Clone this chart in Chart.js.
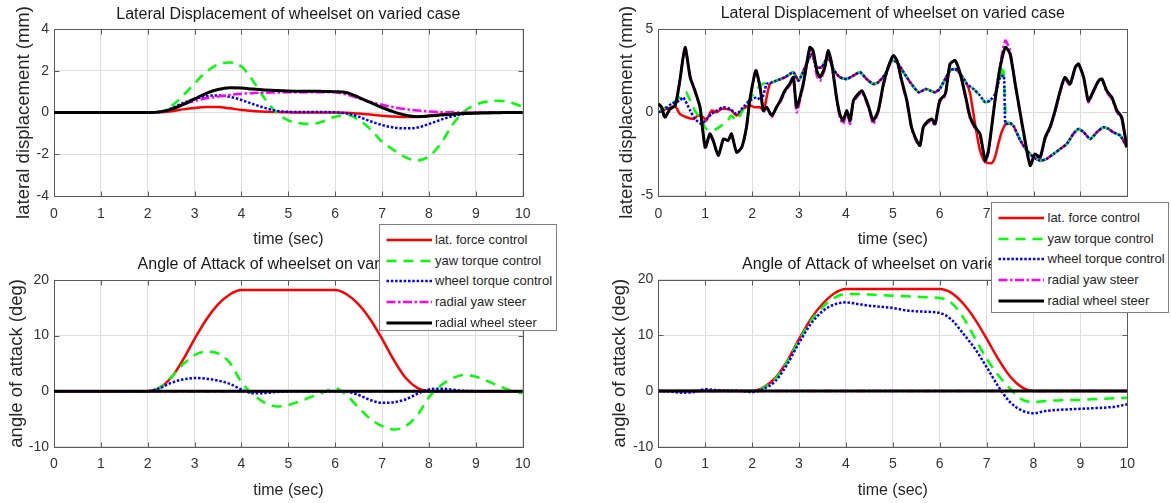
<!DOCTYPE html>
<html>
<head>
<meta charset="utf-8">
<script src="https://cdn.jsdelivr.net/npm/chart.js@4.4.1/dist/chart.umd.min.js"></script>
<style>
  html, body { margin: 0; padding: 0; background: #fff; }
  #figure { position: relative; width: 1171px; height: 503px; overflow: hidden; background: #fff; }
  #figure canvas { position: absolute; }
  .legend { position: absolute; background: #fff; border: 1px solid #808080; box-sizing: border-box;
            font-family: 'Liberation Sans', Arial, Helvetica, sans-serif; font-size: 13px; color: #262626; z-index: 5; }
  .legend .row { position: absolute; left: 0; right: 0; height: 20px; }
  .legend svg { position: absolute; top: 0; left: 0; overflow: visible; }
  .legend span { position: absolute; top: 0; line-height: 20px; white-space: nowrap; }
</style>
</head>
<body>
<div id="figure">
  <canvas id="cTL" width="585" height="250" style="left:0px;top:0px;width:585px;height:250px"></canvas>
  <canvas id="cTR" width="586" height="250" style="left:585px;top:0px;width:586px;height:250px"></canvas>
  <canvas id="cBL" width="585" height="253" style="left:0px;top:250px;width:585px;height:253px"></canvas>
  <canvas id="cBR" width="586" height="253" style="left:585px;top:250px;width:586px;height:253px"></canvas>
  <div id="legTL" class="legend" style="left:378.5px;top:224px;width:178.5px;height:107px"></div>
  <div id="legTR" class="legend" style="left:991px;top:202px;width:178px;height:111px"></div>
</div>
<script>
// ---- series names and shared time base -------------------------------------------
const seriesNames = ['lat. force control', 'yaw torque control', 'wheel torque control', 'radial yaw steer', 'radial wheel steer'];
const timeGrid = [0,0.25,0.5,0.75,1,1.25,1.5,1.75,2,2.25,2.5,2.75,3,3.25,3.5,3.75,4,4.25,4.5,4.75,5,5.25,5.5,5.75,6,6.25,6.5,6.75,7,7.25,7.5,7.75,8,8.25,8.5,8.75,9,9.25,9.5,9.75,10];

// ---- lateral displacement, smooth case (mm), sampled on timeGrid ----------------------
const latSmoothForce  = [0,0,0,0,0,0,0,0,0, 0.01,0.06,0.15,0.22,0.26,0.26,0.2,0.12,0.07,0.04,0.02,0.01, 0,0,0,0, -0.01,-0.05,-0.1,-0.15,-0.19,-0.21,-0.2,-0.15,-0.09,-0.04,-0.02,-0.01, 0,0,0,0];
const latSmoothYaw    = [0,0,0,0,0,0,0,0,0, 0.02,0.3,0.8,1.4,1.95,2.3,2.4,2.2,1.5,0.65, 0.0,-0.38,-0.52,-0.55,-0.42,-0.2,-0.12,-0.35,-0.8,-1.4, -1.8,-2.15,-2.3,-2.1,-1.5,-0.6,0.05,0.38,0.53,0.56, 0.47,0.28];
const latSmoothWheel  = [0,0,0,0,0,0,0,0,0, 0.02,0.2,0.45,0.65,0.78,0.82,0.75,0.6,0.4,0.22, 0.08,0.03,0.02,0.02,0.02,0.01,-0.05,-0.2,-0.42,-0.6, -0.72,-0.76,-0.72,-0.55,-0.35,-0.18,-0.07,-0.02,0,0, 0,0];
const latSmoothRYaw   = [0,0,0,0,0,0,0,0,0, 0.02,0.15,0.38,0.55,0.68,0.76,0.84,0.9,0.93,0.95, 0.96,0.97,0.97,0.97,0.97,0.96,0.85,0.68,0.5,0.37, 0.25,0.16,0.1,0.05,0.02,0.01,0,0,0,0, 0,0];
const latSmoothRWheel = [0,0,0,0,0,0,0,0,0, 0.03,0.15,0.38,0.65,0.92,1.1,1.18,1.17,1.12,1.08, 1.05,1.03,1.02,1.02,1.01,1.0,0.95,0.73,0.48,0.24, 0.03,-0.13,-0.2,-0.17,-0.12,-0.08,-0.05,-0.03,-0.02,-0.01, 0,0];

// ---- lateral displacement, irregular track case (mm): [time, value] ------------------
const latTrackForce = [[0,0],[0.18,0.2],[0.36,0.35],[0.46,-0.1],[0.6,-0.3],[0.75,-0.4],[0.85,-0.2],[0.96,-0.3],[1.02,-0.5],[1.14,0.1],[1.24,0.0],[1.35,0.2],[1.46,0.2],[1.56,0.1],[1.67,-0.2],[1.81,0.2],[1.95,0.4],[2.06,0.3],[2.17,0.3],[2.25,0.1],[2.31,0.9],[2.38,1.7],[2.52,1.9],[2.7,2.1],[2.88,2.4],[2.99,1.9],[3.16,2.9],[3.27,3.5],[3.38,2.7],[3.48,2.7],[3.62,3.3],[3.73,2.6],[3.87,2.1],[4.02,2.0],[4.16,2.2],[4.3,2.4],[4.44,2.0],[4.58,1.7],[4.69,1.8],[4.84,2.3],[4.98,3.1],[5.09,3.0],[5.23,2.4],[5.37,1.8],[5.55,1.2],[5.7,1.4],[5.8,1.3],[5.9,1.2],[6.0,1.4],[6.22,2.5],[6.33,2.6],[6.44,2.3],[6.58,1.7],[6.65,1.1],[6.72,-0.1],[6.79,-1.3],[6.86,-2.3],[6.97,-3.0],[7.11,-3.05],[7.18,-2.7],[7.25,-1.9],[7.32,-1.2],[7.42,-0.65],[7.5,-0.7],[7.57,-0.8],[7.72,-1.7],[7.86,-2.3],[8.0,-2.7],[8.14,-2.9],[8.28,-2.8],[8.43,-2.5],[8.57,-2.2],[8.71,-1.9],[8.85,-1.3],[8.96,-1.0],[9.07,-1.2],[9.21,-1.6],[9.35,-1.2],[9.49,-0.9],[9.6,-1.0],[9.7,-1.2],[9.85,-1.4],[9.99,-2.1]];
const latTrackYaw = [[0,0],[0.1,0.2],[0.28,0.5],[0.46,0.9],[0.59,1.2],[0.68,0.7],[0.78,0.1],[0.92,-0.5],[1.02,-1.0],[1.14,-1.1],[1.24,-1.0],[1.35,-0.8],[1.46,-0.6],[1.56,-0.2],[1.66,-0.5],[1.74,-0.2],[1.88,0.5],[2.03,1.1],[2.17,1.6],[2.31,1.8],[2.38,1.75],[2.52,1.9],[2.7,2.1],[2.88,2.4],[2.99,1.9],[3.16,2.9],[3.27,3.5],[3.38,2.7],[3.48,2.7],[3.62,3.3],[3.73,2.6],[3.87,2.1],[4.02,2.0],[4.16,2.2],[4.3,2.4],[4.44,2.0],[4.58,1.7],[4.69,1.8],[4.84,2.3],[4.98,3.1],[5.09,3.0],[5.23,2.4],[5.37,1.8],[5.55,1.2],[5.7,1.4],[5.8,1.3],[5.9,1.2],[6.0,1.4],[6.22,2.5],[6.33,2.6],[6.44,2.3],[6.58,1.7],[6.72,1.4],[6.86,1.0],[6.97,0.6],[7.07,0.7],[7.18,1.1],[7.29,2.1],[7.35,2.8],[7.42,-0.6],[7.5,-0.65],[7.57,-0.8],[7.72,-1.7],[7.86,-2.3],[8.0,-2.7],[8.14,-2.9],[8.28,-2.8],[8.43,-2.5],[8.57,-2.2],[8.71,-1.9],[8.85,-1.3],[8.96,-1.0],[9.07,-1.2],[9.21,-1.6],[9.35,-1.2],[9.49,-0.9],[9.6,-1.0],[9.7,-1.2],[9.85,-1.4],[9.99,-2.1]];
const latTrackWheel = [[0,0],[0.1,0.1],[0.28,0.5],[0.46,0.7],[0.53,0.9],[0.68,0.1],[0.78,-0.4],[0.92,-0.7],[1.03,-0.4],[1.14,-0.1],[1.24,0.1],[1.39,0.3],[1.53,0.2],[1.67,-0.1],[1.81,0.3],[1.95,0.7],[2.1,0.9],[2.2,0.7],[2.31,1.7],[2.38,1.75],[2.52,1.9],[2.7,2.1],[2.88,2.4],[2.99,1.9],[3.16,2.9],[3.27,3.5],[3.38,2.7],[3.48,2.7],[3.62,3.3],[3.73,2.6],[3.87,2.1],[4.02,2.0],[4.16,2.2],[4.3,2.4],[4.44,2.0],[4.58,1.7],[4.69,1.8],[4.84,2.3],[4.98,3.1],[5.09,3.0],[5.23,2.4],[5.37,1.8],[5.55,1.2],[5.7,1.4],[5.8,1.3],[5.9,1.2],[6.0,1.4],[6.22,2.5],[6.33,2.6],[6.44,2.3],[6.58,1.7],[6.72,1.4],[6.86,1.0],[6.97,0.6],[7.07,0.7],[7.18,1.1],[7.29,2.1],[7.37,2.2],[7.4,-0.7],[7.5,-0.65],[7.57,-0.8],[7.72,-1.7],[7.86,-2.3],[8.0,-2.7],[8.14,-2.9],[8.28,-2.8],[8.43,-2.5],[8.57,-2.2],[8.71,-1.9],[8.85,-1.3],[8.96,-1.0],[9.07,-1.2],[9.21,-1.6],[9.35,-1.2],[9.49,-0.9],[9.6,-1.0],[9.7,-1.2],[9.85,-1.4],[9.99,-2.1]];
const latTrackRYaw = [[0,0.5],[0.07,0.3],[0.14,-0.35],[0.25,0.2],[0.36,0.4],[0.46,1.9],[0.57,3.9],[0.68,2.1],[0.78,1.3],[0.89,0.3],[1.0,-2.2],[1.1,-1.3],[1.17,-1.7],[1.28,-2.6],[1.39,-1.6],[1.49,-1.7],[1.56,-1.3],[1.67,-2.4],[1.78,-2.1],[1.88,-0.9],[1.95,0.7],[2.08,2.5],[2.17,1.5],[2.24,0.0],[2.31,0.3],[2.42,-0.3],[2.52,0.3],[2.6,0.6],[2.7,1.2],[2.8,1.6],[2.88,2.0],[2.95,0.0],[3.09,1.6],[3.23,3.8],[3.3,3.5],[3.38,2.2],[3.45,1.9],[3.55,2.6],[3.62,3.6],[3.7,2.8],[3.8,0.8],[3.87,-0.3],[3.94,-0.7],[4.02,0.0],[4.09,-0.7],[4.16,0.6],[4.26,1.0],[4.34,1.2],[4.44,0.6],[4.51,0.0],[4.58,-0.7],[4.69,0.0],[4.8,1.6],[4.9,2.6],[5.01,3.4],[5.09,3.1],[5.19,1.8],[5.3,0.6],[5.4,-1.0],[5.51,-1.8],[5.58,-2.0],[5.65,-0.9],[5.76,-0.6],[5.83,-0.5],[5.9,-0.8],[6.0,0.6],[6.12,1.0],[6.22,2.9],[6.33,3.1],[6.44,2.3],[6.54,1.0],[6.65,-0.4],[6.76,-1.0],[6.86,-1.4],[6.97,-3.0],[7.04,-2.4],[7.18,0.8],[7.29,2.9],[7.4,4.3],[7.5,3.7],[7.61,1.7],[7.72,-0.2],[7.82,-1.8],[7.93,-3.2],[8.03,-2.6],[8.14,-2.8],[8.25,-1.6],[8.35,-1.0],[8.46,0.0],[8.57,1.2],[8.67,2.0],[8.78,1.6],[8.89,2.7],[8.96,2.9],[9.07,2.0],[9.17,0.6],[9.28,1.2],[9.39,1.9],[9.46,2.0],[9.56,1.2],[9.67,0.8],[9.78,0.0],[9.88,-0.4],[9.99,-2.2]];
const latTrackRWheel = [[0,0.5],[0.07,0.3],[0.14,-0.3],[0.25,0.2],[0.36,0.4],[0.46,1.9],[0.57,3.9],[0.68,2.1],[0.78,1.3],[0.89,0.3],[1.0,-2.1],[1.1,-1.3],[1.17,-1.7],[1.28,-2.6],[1.39,-1.6],[1.49,-1.7],[1.56,-1.3],[1.67,-2.4],[1.78,-2.1],[1.88,-0.9],[1.95,0.7],[2.08,2.5],[2.17,1.5],[2.24,0.1],[2.31,0.3],[2.42,-0.2],[2.52,0.3],[2.6,0.7],[2.7,1.3],[2.8,1.7],[2.88,2.1],[2.95,0.3],[3.09,1.7],[3.23,3.9],[3.3,3.7],[3.38,2.5],[3.45,2.1],[3.55,2.7],[3.62,3.7],[3.7,2.9],[3.8,0.9],[3.87,-0.1],[3.94,-0.5],[4.02,0.1],[4.09,-0.5],[4.16,0.7],[4.26,1.1],[4.34,1.3],[4.44,0.7],[4.51,0.1],[4.58,-0.5],[4.69,0.1],[4.8,1.7],[4.9,2.7],[5.01,3.4],[5.09,3.1],[5.19,1.9],[5.3,0.7],[5.4,-0.9],[5.51,-1.7],[5.58,-2.0],[5.65,-0.9],[5.76,-0.5],[5.83,-0.4],[5.9,-0.7],[6.0,0.7],[6.12,1.1],[6.22,2.9],[6.33,3.1],[6.44,2.3],[6.54,1.1],[6.65,-0.3],[6.76,-0.9],[6.86,-1.3],[6.97,-2.9],[7.04,-2.3],[7.18,0.7],[7.29,2.7],[7.4,3.9],[7.5,3.5],[7.61,1.7],[7.72,-0.1],[7.82,-1.7],[7.93,-3.2],[8.03,-2.5],[8.14,-2.7],[8.25,-1.5],[8.35,-0.9],[8.46,0.1],[8.57,1.3],[8.67,2.1],[8.78,1.7],[8.89,2.7],[8.96,2.9],[9.07,2.1],[9.17,0.7],[9.28,1.3],[9.39,1.9],[9.46,2.0],[9.56,1.3],[9.67,0.9],[9.78,0.1],[9.88,-0.3],[9.99,-2.1]];

// ---- angle of attack, smooth case (deg), sampled on timeGrid -------------------------
const aoaSmoothForce  = [0,0,0,0,0,0,0,0,0, 0.6,2.4,5.6,9.4,12.9,15.6,17.4,18.2,18.2,18.2, 18.2,18.2,18.2,18.2,18.2,18.2,17.4,15.6,12.9,9.4, 5.6,2.4,0.6,0,0,0,0,0,0,0, 0,0];
const aoaSmoothYaw    = [0,0,0,0,0,0,0,0,0, 0.6,2.5,4.8,6.5,7.1,6.8,5.1,1.6,-0.6,-2.1, -2.75,-2.5,-1.8,-1.0,-0.2,0.5,-0.8,-3.0,-5.0,-6.3, -6.9,-6.3,-4.4,-1.1,1.0,2.3,2.9,2.6,1.8,0.9, 0.1,-0.4];
const aoaSmoothWheel  = [0,0,0,0,0,0,0,0,0, 0.5,1.5,2.1,2.35,2.25,1.9,1.3,0.3,-0.4,-0.35, -0.15,-0.05,0,0,0,0,-0.1,-0.7,-1.6,-2.1, -2.0,-1.5,-0.5,0.3,0.45,0.25,0.05,0,0,0, 0,0];
const aoaSmoothRYaw   = [0,0,0,0,0,0,0,0,0, 0,0,0,0,0,0,0,0,0,0, 0,0,0,0,0,0,0,0,0,0, 0,0,0,0,0,0,0,0,0,0, 0,0];
const aoaSmoothRWheel = [0,0,0,0,0,0,0,0,0, 0,0,0,0,0,0,0,0,0,0, 0,0,0,0,0,0,0,0,0,0, 0,0,0,0,0,0,0,0,0,0, 0,0];

// ---- angle of attack, irregular track case (deg), sampled on timeGrid -----------------
const aoaTrackForce  = [0,0,0,0,0,0,0,0,0, 0.7,2.4,5.4,9.3,12.9,15.6,17.5,18.3,18.3,18.3, 18.3,18.3,18.3,18.3,18.3,18.3,17.6,15.7,12.9,9.4, 5.7,2.6,0.7,0,0,0,0,0,0,0, 0,0];
const aoaTrackYaw    = [0,0,0,0,0,0,0,0,0, 0.6,2.2,5.2,9.0,12.5,15.0,16.7,17.4,17.4,17.3, 17.2,17.1,17.0,16.9,16.8,16.7,15.8,13.2,9.5,5.8, 2.8,0.4,-1.5,-2.0,-1.8,-1.7,-1.6,-1.6,-1.5,-1.4, -1.3,-1.2];
const aoaTrackWheel  = [0,-0.1,-0.3,-0.2,0.3,0.15,0.05,0,-0.2, 0.4,1.8,4.8,8.6,12.0,14.3,15.5,15.9,15.6,15.3, 15.1,14.9,14.5,14.3,14.2,14.0,12.8,10.3,7.6,4.3, 0.8,-2.0,-3.5,-4.0,-3.6,-3.4,-3.3,-3.2,-3.1,-3.0, -2.8,-2.4];
const aoaTrackRYaw   = [0,0,0,0,0,0,0,0,0, 0,0,0,0,0,0,0,0,0,0, 0,0,0,0,0,0,0,0,0,0, 0,0,0,0,0,0,0,0,0,0, 0,0];
const aoaTrackRWheel = [0,0,0,0,0,0,0,0,0, 0,0,0,0,0,0,0,0,0,0, 0,0,0,0,0,0,0,0,0,0, 0,0,0,0,0,0,0,0,0,0, 0,0];

// ---- line styles, one per series ------------------------------------------------------
const seriesStyles = [
  { color: '#ff0000', dash: [],                 width: 2.5 },
  { color: '#00ff00', dash: [10, 7],            width: 2.5 },
  { color: '#0000ff', dash: [2.5, 1.8],         width: 2.5 },
  { color: '#ff00ff', dash: [9, 2.5, 2.5, 2.5], width: 2.5 },
  { color: '#000000', dash: [],                 width: 3 }
];

const FONT = "'Liberation Sans', Arial, Helvetica, sans-serif";
const onGrid = vals => vals.map((v, i) => ({ x: timeGrid[i], y: v }));
const fromPairs = pts => pts.map(([x, y]) => ({ x, y }));

function buildDatasets(seriesData, smooth) {
  return seriesData.map((pts, i) => ({
    label: seriesNames[i],
    data: pts,
    borderColor: seriesStyles[i].color,
    backgroundColor: seriesStyles[i].color,
    borderWidth: seriesStyles[i].width,
    borderDash: seriesStyles[i].dash,
    borderJoinStyle: 'round',
    pointRadius: 0,
    fill: false,
    tension: smooth ? 0 : 0.2,
    cubicInterpolationMode: smooth ? 'monotone' : 'default',
    order: seriesData.length - i
  }));
}

// axes box with inward tick marks on all four sides
const axesBox = {
  id: 'axesBox',
  beforeDatasetsDraw(chart) {
    const { ctx, chartArea: a, scales: { x, y } } = chart;
    const L = Math.round(a.left) + 0.5, R = Math.round(a.right) + 0.5;
    const T = Math.round(a.top) + 0.5, B = Math.round(a.bottom) + 0.5;
    const len = 5;
    ctx.save();
    ctx.strokeStyle = '#5a5a5a';
    ctx.lineWidth = 1;
    ctx.beginPath();
    x.ticks.forEach(t => {
      const px = Math.round(x.getPixelForValue(t.value)) + 0.5;
      if (px <= L + 1 || px >= R - 1) return;
      ctx.moveTo(px, B); ctx.lineTo(px, B - len);
      ctx.moveTo(px, T); ctx.lineTo(px, T + len);
    });
    y.ticks.forEach(t => {
      const py = Math.round(y.getPixelForValue(t.value)) + 0.5;
      if (py <= T + 1 || py >= B - 1) return;
      ctx.moveTo(L, py); ctx.lineTo(L + len, py);
      ctx.moveTo(R, py); ctx.lineTo(R - len, py);
    });
    ctx.stroke();
    ctx.strokeRect(L, T, R - L, B - T);
    ctx.restore();
  }
};

function makePanel(id, g, titleText, yTitle, yMin, yMax, yStep, datasets) {
  return new Chart(document.getElementById(id), {
    type: 'line',
    data: { datasets },
    options: {
      responsive: false,
      animation: false,
      devicePixelRatio: 1,
      events: [],
      layout: { padding: { left: 0, right: g.padRight, top: 0, bottom: 0 } },
      plugins: {
        legend: { display: false },
        tooltip: { enabled: false },
        title: {
          display: true, text: titleText, fullSize: false, align: 'center', color: '#1a1a1a',
          font: { family: FONT, size: 16, weight: 'normal', lineHeight: 1.2 },
          padding: { top: g.titleTop, bottom: g.titleBottom }
        }
      },
      scales: {
        x: {
          type: 'linear', min: 0, max: 10,
          ticks: { stepSize: 1, autoSkip: false, maxRotation: 0, color: '#333', padding: g.xTickPad,
                   font: { family: FONT, size: 14 } },
          grid: { color: '#dedede', lineWidth: 1, drawTicks: false },
          border: { display: false },
          title: { display: true, text: 'time (sec)', color: '#262626',
                   font: { family: FONT, size: 16, lineHeight: 1.2 }, padding: { top: 0, bottom: g.xTitlePad } },
          afterFit: s => { s.height = g.xH; }
        },
        y: {
          type: 'linear', min: yMin, max: yMax,
          ticks: { stepSize: yStep, color: '#333', padding: 5, font: { family: FONT, size: 14 } },
          grid: { color: '#dedede', lineWidth: 1, drawTicks: false },
          border: { display: false },
          title: { display: true, text: yTitle, color: '#262626',
                   font: { family: FONT, size: 18.5, lineHeight: 1.2 }, padding: { top: g.yTitlePad, bottom: 0 } },
          afterFit: s => { s.width = g.yW; }
        }
      }
    },
    plugins: [axesBox]
  });
}

function buildLegend(el, chart) {
  const first = 15, gap = 20.7, x0 = 6.5, x1 = 52, textX = 55.5;
  chart.data.datasets.forEach((ds, i) => {
    const row = document.createElement('div');
    row.className = 'row';
    row.style.top = (first + gap * i - 10) + 'px';
    const svgNS = 'http://www.w3.org/2000/svg';
    const svg = document.createElementNS(svgNS, 'svg');
    svg.setAttribute('width', '60'); svg.setAttribute('height', '20');
    const ln = document.createElementNS(svgNS, 'line');
    ln.setAttribute('x1', x0); ln.setAttribute('x2', x1);
    ln.setAttribute('y1', 10); ln.setAttribute('y2', 10);
    ln.setAttribute('stroke', ds.borderColor);
    ln.setAttribute('stroke-width', ds.borderWidth);
    if (ds.borderDash.length) ln.setAttribute('stroke-dasharray', ds.borderDash.join(' '));
    svg.appendChild(ln);
    const label = document.createElement('span');
    label.style.left = textX + 'px';
    label.textContent = ds.label;
    row.appendChild(svg);
    row.appendChild(label);
    el.appendChild(row);
  });
}

const titleLat = 'Lateral Displacement of wheelset on varied case';
const titleAoa = 'Angle of Attack of wheelset on varied case';

const chartTL = makePanel('cTL',
  { padRight: 62.3, yW: 54, xH: 54, titleTop: 4.6, titleBottom: 5.2, xTickPad: 9.6, xTitlePad: 0.4, yTitlePad: 12.7 },
  titleLat, 'lateral displacement (mm)', -4, 4, 2,
  buildDatasets([latSmoothForce, latSmoothYaw, latSmoothWheel, latSmoothRYaw, latSmoothRWheel].map(onGrid), true));

const chartTR = makePanel('cTR',
  { padRight: 43.7, yW: 73.3, xH: 54.5, titleTop: 3.7, titleBottom: 6.1, xTickPad: 10.1, xTitlePad: 0.4, yTitlePad: 31.0 },
  titleLat, 'lateral displacement (mm)', -5, 5, 5,
  buildDatasets([latTrackForce, latTrackYaw, latTrackWheel, latTrackRYaw, latTrackRWheel].map(fromPairs), false));

const chartBL = makePanel('cBL',
  { padRight: 62.3, yW: 54, xH: 56.3, titleTop: 5.4, titleBottom: 5.4, xTickPad: 8.9, xTitlePad: 2.9, yTitlePad: 6.0 },
  titleAoa, 'angle of attack (deg)', -10, 20, 10,
  buildDatasets([aoaSmoothForce, aoaSmoothYaw, aoaSmoothWheel, aoaSmoothRYaw, aoaSmoothRWheel].map(onGrid), true));

const chartBR = makePanel('cBR',
  { padRight: 43.7, yW: 73.3, xH: 56.3, titleTop: 5.4, titleBottom: 4.9, xTickPad: 8.9, xTitlePad: 2.9, yTitlePad: 24.3 },
  titleAoa, 'angle of attack (deg)', -10, 20, 10,
  buildDatasets([aoaTrackForce, aoaTrackYaw, aoaTrackWheel, aoaTrackRYaw, aoaTrackRWheel].map(onGrid), true));

buildLegend(document.getElementById('legTL'), chartTL);
buildLegend(document.getElementById('legTR'), chartTR);
</script>
</body>
</html>
